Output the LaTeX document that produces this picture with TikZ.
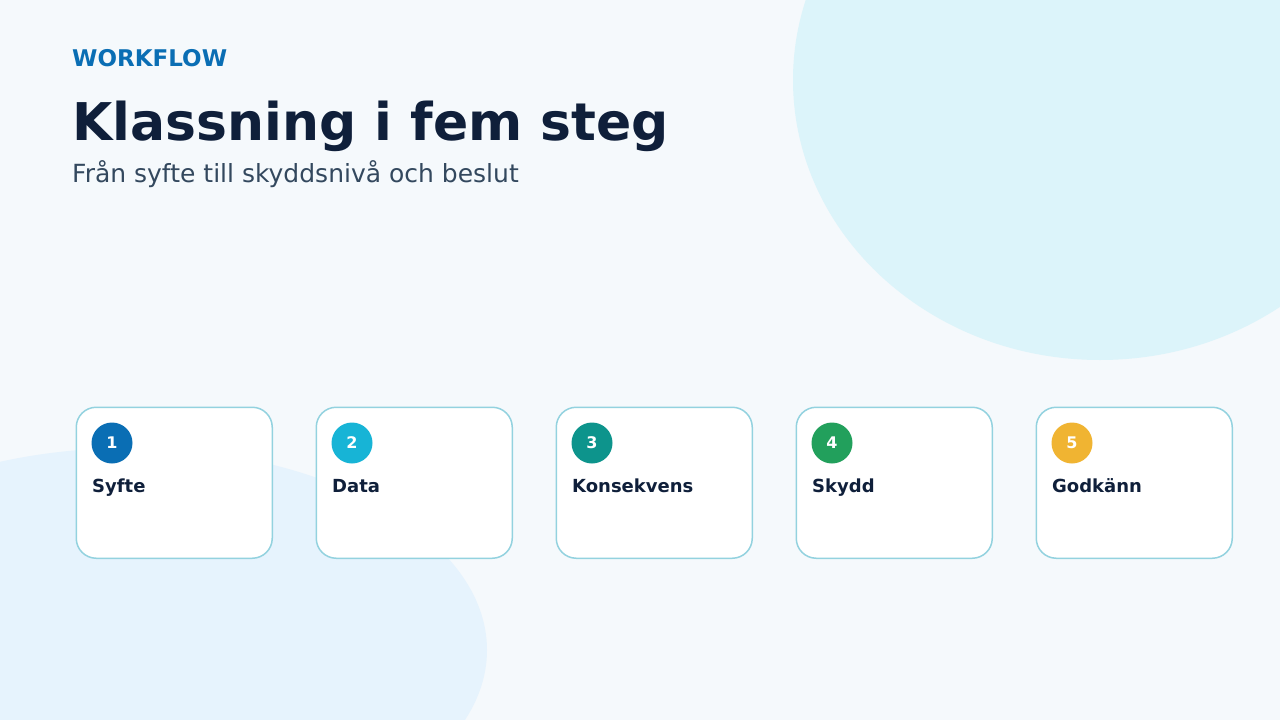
\documentclass[tikz,border=0pt]{standalone}
\usepackage{fontspec}
\setmainfont{DejaVu Sans}
\definecolor{bgc}{HTML}{F5F9FC}
\definecolor{blobA}{HTML}{DCF4FA}
\definecolor{blobB}{HTML}{E6F3FD}
\definecolor{navy}{HTML}{0F1F3A}
\definecolor{subc}{HTML}{33485E}
\definecolor{kicker}{HTML}{0A6EB4}
\definecolor{cardline}{HTML}{93D2DF}
\definecolor{cA}{HTML}{0A6EB4}
\definecolor{cB}{HTML}{17B4D6}
\definecolor{cC}{HTML}{0D948C}
\definecolor{cD}{HTML}{22A05C}
\definecolor{cE}{HTML}{F0B432}
\tikzset{
  card/.style={draw=cardline, line width=1.5pt, fill=white, rounded corners=20pt,
    minimum width=196pt, minimum height=151pt, anchor=north west, inner sep=0pt},
  badge/.style={circle, minimum size=41pt, inner sep=0pt, text=white,
    font=\bfseries\fontsize{16}{18}\selectfont},
  steplabel/.style={anchor=base west, inner sep=0pt, text=navy,
    font=\bfseries\fontsize{18}{20}\selectfont},
}
\begin{document}
\begin{tikzpicture}[x=1pt,y=-1pt]
\fill[bgc] (0,0) rectangle (1280,720);
\useasboundingbox (0,0) rectangle (1280,720);
\begin{scope}
\clip (0,0) rectangle (1280,720);
\fill[blobA] (1100,80) ellipse [x radius=307, y radius=280];
\fill[blobB] (130,650) ellipse [x radius=357, y radius=202];
\end{scope}
\node[anchor=base west, inner sep=0pt, text=kicker, font=\bfseries\fontsize{23}{26}\selectfont] (kick) at (72,66) {WORKFLOW};
\node[anchor=base west, inner sep=0pt, text=navy, font=\bfseries\fontsize{52}{60}\selectfont] (title) at (72,140) {Klassning i fem steg};
\node[anchor=base west, inner sep=0pt, text=subc, font=\fontsize{25}{29}\selectfont] (sub) at (72,182) {Från syfte till skyddsnivå och beslut};
\foreach \i/\col/\lab in {0/cA/Syfte,1/cB/Data,2/cC/Konsekvens,3/cD/Skydd,4/cE/Godkänn}{
  \node[card] (card\i) at (75.5+240*\i,406.5) {};
  \node[badge, fill=\col] (badge\i) at (112+240*\i,443) {\the\numexpr\i+1\relax};
  \node[steplabel] (lab\i) at (92+240*\i,492) {\lab};
}
\end{tikzpicture}
\end{document}
